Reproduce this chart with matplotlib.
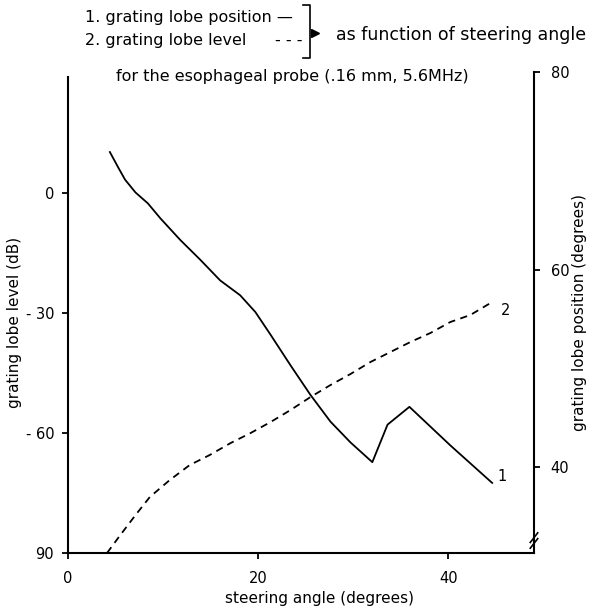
import matplotlib.pyplot as plt
from matplotlib.lines import Line2D

# Steering angle (degrees) and grating lobe position (degrees), curve 1
angle_pos = [4.4, 5.3, 6.0, 7.1, 8.4, 9.7, 11.8, 13.9, 16.0, 18.1, 19.7, 21.3,
             23.4, 25.5, 27.6, 29.7, 32.0, 33.6, 35.9, 40.2, 44.6]
lobe_pos = [71.9, 70.3, 69.1, 67.8, 66.7, 65.2, 63.0, 61.0, 58.9, 57.4, 55.7, 53.4,
            50.3, 47.3, 44.6, 42.5, 40.5, 44.3, 46.1, 42.2, 38.4]

# Steering angle (degrees) and grating lobe level (dB), curve 2
angle_lvl = [4.1, 5.5, 7.1, 8.6, 10.7, 12.8, 14.9, 17.1, 19.2, 21.3, 23.4,
             25.5, 27.6, 29.7, 31.8, 33.9, 36.0, 38.1, 40.2, 42.3, 44.6]
lobe_lvl = [-90, -85.5, -80.5, -76, -71.75, -68, -65.5, -62.5, -60, -57.25, -54.25,
            -51, -48, -45.25, -42.25, -39.75, -37.25, -35, -32.25, -30.5, -27.25]

x_ticks = [0, 20, 40]
lvl_ticks = [0, -30, -60, -90]
lvl_labels = ['0', '- 30', '- 60', '90']
pos_ticks = [40, 60, 80]
pos_labels = ['40', '60', '80']

plt.rcParams['font.family'] = 'DejaVu Sans'
fs_tick = 10.5
fs_label = 11
fs_head = 11.5

fig = plt.figure(figsize=(5.93, 6.14), dpi=100)
ax = fig.add_axes([0.1147, 0.0993, 0.7858, 0.7834])
ax2 = ax.twinx()

# level curve on the left (dB) axis
ax.plot(angle_lvl, lobe_lvl, color='black', lw=1.3, linestyle=(0, (4, 3)))
ax.set_xlim(0, 49)
ax.set_ylim(-90, 30.25)
ax.set_xticks(x_ticks)
ax.set_yticks(lvl_ticks)
ax.set_yticklabels(lvl_labels)
ax.spines['top'].set_visible(False)
ax.spines['right'].set_visible(False)
ax.spines['left'].set_bounds(-90, 29)
for s in ('left', 'bottom'):
    ax.spines[s].set_linewidth(1.5)
ax.tick_params(axis='both', direction='out', length=4, width=1.3, labelsize=fs_tick)
ax.tick_params(axis='y', pad=6)
ax.tick_params(axis='x', pad=9)
ax.set_xlabel('steering angle (degrees)', fontsize=fs_label, va='center')
ax.xaxis.set_label_coords(0.54, -0.094)
ax.set_ylabel('grating lobe level (dB)', fontsize=fs_label, va='center')
ax.yaxis.set_label_coords(-0.114, 0.48)

# position curve on the right (degrees) axis
ax2.plot(angle_pos, lobe_pos, color='black', lw=1.3)
ax2.set_ylim(31.3, 80)
ax2.set_yticks(pos_ticks)
ax2.set_yticklabels(pos_labels)
for s in ('top', 'left', 'bottom'):
    ax2.spines[s].set_visible(False)
ax2.spines['right'].set_linewidth(1.5)
ax2.tick_params(axis='y', direction='out', length=4, width=1.3, labelsize=fs_tick, pad=8)
ax2.set_ylabel('grating lobe position (degrees)', fontsize=fs_label, va='center')
ax2.yaxis.set_label_coords(1.097, 0.5)

# curve numbers
ax2.text(45.6, 39.0, '1', fontsize=fs_tick, ha='center', va='center')
ax.text(46.0, -29.25, '2', fontsize=fs_tick, ha='center', va='center')

# axis break marks on the right axis
for dy in (0.0, 0.012):
    ax.add_line(Line2D([0.992, 1.008], [0.01 + dy, 0.03 + dy], transform=ax.transAxes,
                       color='black', lw=1.2, clip_on=False))

# key and caption above the plot
fig.text(0.1433, 0.9723, '1. grating lobe position —', fontsize=fs_head, va='center')
fig.text(0.1433, 0.9335, '2. grating lobe level', fontsize=fs_head, va='center')
fig.text(0.4637, 0.9335, '- - -', fontsize=fs_head, va='center')
fig.add_artist(Line2D([0.511, 0.5228, 0.5228, 0.511], [0.9919, 0.9919, 0.9055, 0.9055],
                      color='black', lw=1.2))
fig.add_artist(Line2D([0.531], [0.946], marker='>', markersize=6, color='black'))
fig.text(0.988, 0.943, 'as function of steering angle', fontsize=12.5,
         ha='right', va='center')
fig.text(0.1956, 0.875, 'for the esophageal probe (.16 mm, 5.6MHz)', fontsize=fs_head,
         va='center')

fig.savefig('out.png', dpi=100)
